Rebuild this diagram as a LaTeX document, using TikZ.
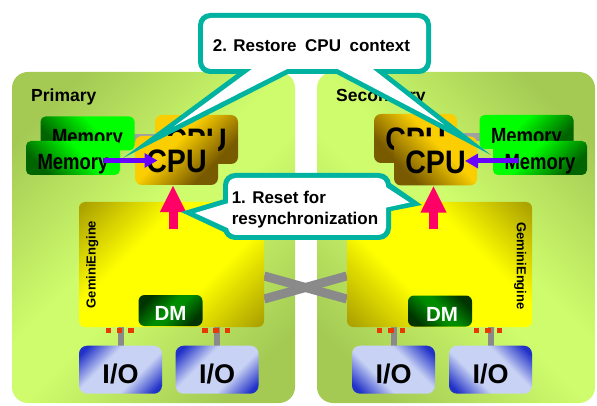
\documentclass[tikz,border=0pt]{standalone}
\usepackage{fontspec}
\setmainfont{Liberation Sans}
\usetikzlibrary{arrows.meta}

\definecolor{paneldark}{RGB}{164,202,84}
\definecolor{panellight}{RGB}{206,252,108}
\definecolor{memdark}{RGB}{0,100,0}
\definecolor{membright}{RGB}{0,255,0}
\definecolor{cpudark}{RGB}{120,90,0}
\definecolor{cpubright}{RGB}{250,206,0}
\definecolor{gedark}{RGB}{172,162,0}
\definecolor{gebright}{RGB}{255,255,0}
\definecolor{dmdark}{RGB}{0,52,0}
\definecolor{dmbright}{RGB}{0,140,0}
\definecolor{iodark}{RGB}{34,50,200}
\definecolor{iolight}{RGB}{200,210,244}
\definecolor{callteal}{RGB}{0,178,160}
\definecolor{resetpink}{RGB}{255,0,102}
\definecolor{ctxpurple}{RGB}{104,0,255}
\definecolor{portred}{RGB}{232,58,0}
\definecolor{wiregray}{RGB}{138,138,138}
\definecolor{linkgray}{RGB}{160,160,160}

\pgfdeclarehorizontalshading{panelshade}{100bp}{color(0bp)=(paneldark); color(23bp)=(paneldark); color(46bp)=(panellight); color(54bp)=(panellight); color(77bp)=(paneldark); color(100bp)=(paneldark)}
\pgfdeclarehorizontalshading{geshade}{100bp}{color(0bp)=(gedark); color(16bp)=(gedark); color(38bp)=(gebright); color(62bp)=(gebright); color(84bp)=(gedark); color(100bp)=(gedark)}
\pgfdeclarehorizontalshading{ioshade}{100bp}{color(0bp)=(iodark); color(20bp)=(iodark); color(38bp)=(iolight); color(62bp)=(iolight); color(80bp)=(iodark); color(100bp)=(iodark)}
\pgfdeclarehorizontalshading{dmshade}{100bp}{color(0bp)=(dmdark); color(25bp)=(dmdark); color(46bp)=(dmbright); color(54bp)=(dmbright); color(75bp)=(dmdark); color(100bp)=(dmdark)}
\pgfdeclarehorizontalshading{memshade}{100bp}{color(0bp)=(memdark); color(27bp)=(memdark); color(58bp)=(membright); color(100bp)=(membright)}
\pgfdeclarehorizontalshading{cpushade}{100bp}{color(0bp)=(cpudark); color(28bp)=(cpudark); color(60bp)=(cpubright); color(100bp)=(cpubright)}

\pgfdeclarelayer{panels}
\pgfdeclarelayer{wires}
\pgfsetlayers{panels,wires,main}

\tikzset{
  panel/.style={rounded corners=16pt, shading=panelshade},
  paneltext/.style={font=\bfseries\fontsize{17.5}{17.5}\selectfont, inner sep=0pt},
  membox/.style={rounded corners=5pt, minimum width=94pt, minimum height=34pt, inner sep=0pt, shading=memshade},
  memtext/.style={font=\bfseries\fontsize{22}{22}\selectfont, xscale=0.84, inner sep=0pt},
  cpubox/.style={rounded corners=7pt, minimum width=83pt, minimum height=49pt, inner sep=0pt, shading=cpushade},
  cputext/.style={font=\bfseries\fontsize{32.5}{32.5}\selectfont, xscale=0.88, inner sep=0pt},
  gebox/.style={rounded corners=6pt, minimum width=185pt, minimum height=125pt, inner sep=0pt, shading=geshade},
  getext/.style={font=\bfseries\fontsize{13}{13}\selectfont, inner sep=0pt},
  dmbox/.style={rounded corners=6pt, minimum width=64pt, minimum height=31pt, inner sep=0pt, shading=dmshade},
  dmtext/.style={text=white, font=\bfseries\fontsize{20.5}{20.5}\selectfont, inner sep=0pt},
  iobox/.style={rounded corners=8pt, minimum width=83pt, minimum height=48pt, inner sep=0pt, shading=ioshade},
  iotext/.style={font=\bfseries\fontsize{27}{27}\selectfont, inner sep=0pt},
  crosswire/.style={draw=wiregray, line width=9pt},
  stub/.style={draw=wiregray, line width=6pt},
  memlink/.style={draw=linkgray, line width=8pt},
  port/.style={fill=portred},
  ctxarrow/.style={draw=ctxpurple, line width=5pt, -{Triangle[width=14pt,length=13pt]}},
  resetarrow/.style={draw=resetpink, line width=9pt, -{Triangle[width=24pt,length=27pt]}},
  callrim/.style={fill=callteal},
  callbody/.style={fill=white},
  calltext/.style={font=\bfseries\fontsize{17}{21.7}\selectfont, inner sep=0pt},
}

\begin{document}
\begin{tikzpicture}[x=1pt, y=-1pt]
  \useasboundingbox (0,0) rectangle (597,406);

  % Primary and secondary panels
  \begin{pgfonlayer}{panels}
    \fill[white] (0,0) rectangle (597,406);
    \shade[panel, shading angle=-45] (12,72) rectangle (295,403);
    \shade[panel, shading angle=45] (317,72) rectangle (595,403);
  \end{pgfonlayer}
  \node[paneltext, anchor=base west] (prim) at (31,101.5) {Primary};
  \node[paneltext, anchor=base west] (sec) at (336,101.5) {Secondary};

  % GeminiEngine boxes
  \node[gebox, shading angle=-45] (ge1) at (171.5,264.5) {};
  \node[gebox, shading angle=45] (ge2) at (439.5,264.5) {};
  \node[getext, rotate=90] (ge1t) at ([xshift=13.5pt]ge1.west) {GeminiEngine};
  \node[getext, rotate=-90] (ge2t) at ([xshift=-12pt,yshift=-1.5pt]ge2.east) {GeminiEngine};

  % DM
  \node[dmbox, shading angle=-45] (dm1) at (170.5,310.5) {};
  \node[dmtext] (dm1t) at ([yshift=-3pt]dm1.center) {DM};
  \node[dmbox, shading angle=45] (dm2) at (440,311) {};
  \node[dmtext] (dm2t) at ([xshift=2pt,yshift=-3pt]dm2.center) {DM};

  % I/O
  \node[iobox, shading angle=-45] (io1a) at (120.5,369.7) {};
  \node[iobox, shading angle=-45] (io1b) at (217,369.7) {};
  \node[iobox, shading angle=45] (io2a) at (393.5,369.7) {};
  \node[iobox, shading angle=45] (io2b) at (490.5,369.7) {};
  \foreach \io in {io1a,io1b,io2a,io2b}
    \node[iotext] (\io t) at ([yshift=-4pt]\io.center) {I/O};

  % cross link, stubs and ports
  \begin{pgfonlayer}{wires}
    \draw[crosswire] ([yshift=-11.5pt]ge1.east) -- ([yshift=-34.5pt]ge2.west);
    \draw[crosswire] ([yshift=-34.5pt]ge1.east) -- ([yshift=-11.5pt]ge2.west);
    \foreach \io/\ge in {io1a/ge1,io1b/ge1,io2a/ge2,io2b/ge2}
      \draw[stub] (\io.north) -- (\io.north |- \ge.south);
  \end{pgfonlayer}
  \foreach \dx in {-12,-1,10.5} {
    \fill[port] ([xshift=\dx pt]io1a.north |- ge1.south) +(-2.75,0.3) rectangle +(2.75,5.7);
    \fill[port] ([xshift=\dx pt]io1b.north |- ge1.south) +(-2.75,0.3) rectangle +(2.75,5.7);
  }
  \foreach \dx in {-14,-2.5,9} {
    \fill[port] ([xshift=\dx pt]io2a.north |- ge2.south) +(-2.75,0.3) rectangle +(2.75,5.7);
    \fill[port] ([xshift=\dx pt]io2b.north |- ge2.south) +(-2.75,0.3) rectangle +(2.75,5.7);
  }

  % Primary memory and CPU
  \node[membox, shading angle=45] (mb1) at (87.5,133.5) {};
  \node[memtext] (mb1t) at ([yshift=-6pt]mb1.center) {Memory};
  \node[cpubox, shading angle=135] (cb1) at (196.5,139.5) {};
  \node[cputext] (cb1t) at ([yshift=-1pt]cb1.center) {CPU};
  \node[membox, shading angle=45] (mf1) at (73,158) {};
  \node[memtext] (mf1t) at ([yshift=-6pt]mf1.center) {Memory};
  \node[cpubox, shading angle=135] (cf1) at (176.5,160.5) {};
  \node[cputext] (cf1t) at ([yshift=-1pt]cf1.center) {CPU};

  % Secondary memory and CPU
  \node[cpubox, shading angle=45] (cb2) at (415.5,138.5) {};
  \node[cputext] (cb2t) at ([yshift=-1pt]cb2.center) {CPU};
  \node[membox, shading angle=135] (mb2) at (526.5,132) {};
  \node[memtext] (mb2t) at ([yshift=-6pt]mb2.center) {Memory};
  \node[cpubox, shading angle=45] (cf2) at (435.5,161) {};
  \node[cputext] (cf2t) at ([yshift=-1pt]cf2.center) {CPU};
  \node[membox, shading angle=135] (mf2) at (540,158) {};
  \node[memtext] (mf2t) at ([yshift=-6pt]mf2.center) {Memory};

  \begin{pgfonlayer}{wires}
    \draw[memlink] ([yshift=-4.5pt]mb1.center) -- ([yshift=-4.5pt]mb1.center -| cb1.center);
    \draw[memlink] ([yshift=-5pt]mb2.center) -- ([yshift=-5pt]mb2.center -| cb2.center);
  \end{pgfonlayer}

  % context copy and reset arrows
  \draw[ctxarrow] ([xshift=30pt]mf1.center |- cf1.center) -- ([xshift=-19pt]cf1.center);
  \draw[ctxarrow] ([xshift=-21pt]mf2.center |- cf2.center) -- ([xshift=29.5pt]cf2.center);
  \draw[resetarrow] ([xshift=1.5pt,yshift=-27pt]ge1.north) -- ([xshift=1.5pt]ge1.north |- cf1.south);
  \draw[resetarrow] ([xshift=-6pt,yshift=-27pt]ge2.north) -- ([xshift=-6pt]ge2.north |- cf2.south);

  % Callout 1: reset
  \coordinate (rtip1) at (181,212);
  \coordinate (rtip2) at (422,205);
  \fill[callrim, rounded corners=12pt] (223,173) rectangle (391,240);
  \fill[callrim] (228,198) -- (rtip1) -- (228,234) -- cycle;
  \fill[callrim] (386,180) -- (rtip2) -- (386,212) -- cycle;
  \fill[callbody, rounded corners=8pt] (228,178) rectangle (386,235);
  \fill[callbody] (232,202) -- (195,213) -- (232,230) -- cycle;
  \fill[callbody] (382,184.5) -- (409.5,202.5) -- (382,208.5) -- cycle;
  \node[calltext, align=left] (reset) at (305,209.6) {1. Reset for\\resynchronization};

  % Callout 2: restore
  \coordinate (ctip1) at (123,158);
  \coordinate (ctip2) at (491,155);
  \fill[callrim, rounded corners=12pt] (198,13) rectangle (431,74);
  \fill[callrim] (242,70) -- (ctip1) -- (296,70) -- cycle;
  \fill[callrim] (329,70) -- (ctip2) -- (382,70) -- cycle;
  \fill[callbody, rounded corners=8pt] (203,18) rectangle (426,69);
  \fill[callbody] (256,66) -- (174,126.3) -- (293,66) -- cycle;
  \fill[callbody] (332,66) -- (444,124.7) -- (369,66) -- cycle;
  \node[calltext] (restore) at (311.5,45.5) {2. Restore\enspace CPU\enspace context};
\end{tikzpicture}
\end{document}
